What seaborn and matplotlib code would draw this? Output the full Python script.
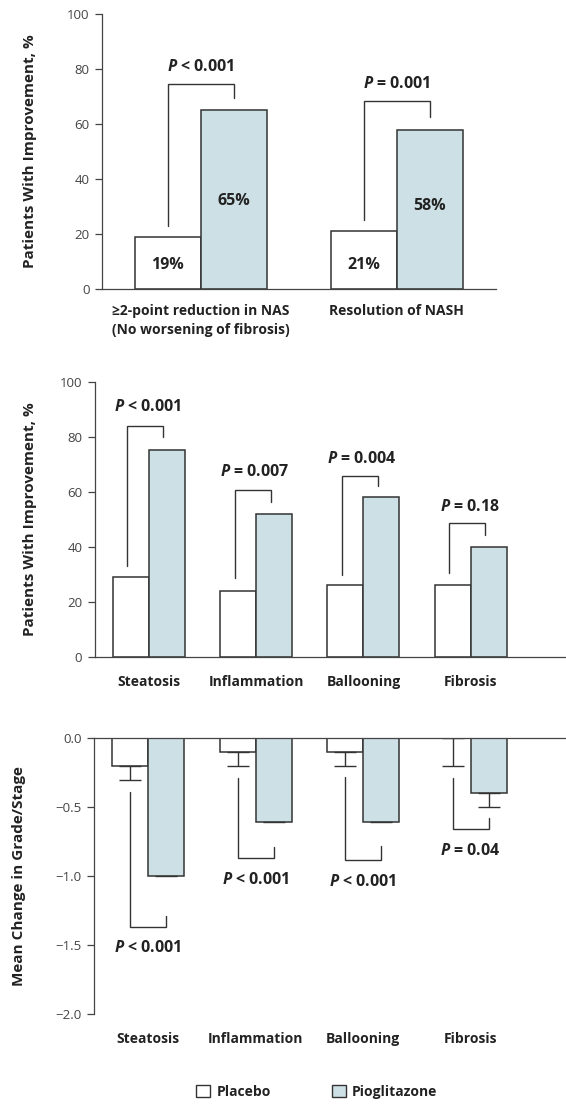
import matplotlib
matplotlib.use("Agg")
import matplotlib.pyplot as plt
import seaborn as sns
import numpy as np
import pandas as pd
from matplotlib.patches import Patch

sns.set_theme(style="ticks")
plt.rcParams['font.family'] = ['Open Sans', 'DejaVu Sans']
plt.rcParams['mathtext.fontset'] = 'custom'
plt.rcParams['mathtext.bfit'] = 'Open Sans:italic:bold'

# ---------- data ----------
groups = ['Placebo', 'Pioglitazone']
palette = {'Placebo': '#ffffff', 'Pioglitazone': '#cde0e5'}

# top panel: primary outcomes
outcomes = ['\u22652-point reduction in NAS\n(No worsening of fibrosis)', 'Resolution of NASH']
outcome_placebo = [19, 21]
outcome_pio = [65, 58]
outcome_label_y = [8.6, 8.6, 32.0, 30.2]
outcome_p = ['< 0.001', '= 0.001']
outcome_br_top = [74.4, 68.4]
outcome_br_left = [22.9, 25.0]
outcome_br_right = [69.3, 62.6]
outcome_p_y = [80.8, 74.4]

# middle panel: histologic features, % improved
features = ['Steatosis', 'Inflammation', 'Ballooning', 'Fibrosis']
improve_placebo = [29, 24, 26, 26]
improve_pio = [75, 52, 58, 40]
improve_p = ['< 0.001', '= 0.007', '= 0.004', '= 0.18']
improve_br_top = [83.9, 60.5, 65.7, 48.5]
improve_br_left = [33.1, 28.5, 29.7, 30.3]
improve_br_right = [80.0, 56.4, 62.1, 44.2]
improve_p_y = [90.9, 67.3, 71.8, 54.5]

# bottom panel: mean change in grade/stage
change_placebo = [-0.2, -0.1, -0.1, 0.0]
change_placebo_err = [0.1, 0.1, 0.1, 0.2]
change_pio = [-1.0, -0.61, -0.61, -0.4]
change_pio_err = [np.nan, np.nan, np.nan, 0.1]
change_p = ['< 0.001', '< 0.001', '< 0.001', '= 0.04']
change_br_bottom = [-1.37, -0.87, -0.88, -0.66]
change_br_left = [-0.39, -0.29, -0.28, -0.29]
change_br_right = [-1.285, -0.79, -0.78, -0.58]
change_p_y = [-1.52, -1.03, -1.04, -0.82]
change_ticks = [0.0, -0.5, -1.0, -1.5, -2.0]

EDGE = '#333333'
TXT = '#222222'


def draw_bars(ax, cats, placebo, pio, width):
    df = pd.DataFrame({
        'cat': cats * 2,
        'group': ['Placebo'] * len(cats) + ['Pioglitazone'] * len(cats),
        'value': placebo + pio,
    })
    sns.barplot(data=df, x='cat', y='value', hue='group', hue_order=groups,
                palette=palette, saturation=1, width=width, errorbar=None,
                edgecolor=EDGE, linewidth=1.1, legend=False, ax=ax)
    pl = [b.get_x() + b.get_width() / 2 for b in ax.containers[0]]
    pi = [b.get_x() + b.get_width() / 2 for b in ax.containers[1]]
    return pl, pi


def bracket(ax, x0, x1, y0, y1, ybar, label, ylab, xlab):
    ax.plot([x0, x0, x1, x1], [y0, ybar, ybar, y1], color=EDGE, lw=1.0,
            solid_joinstyle='miter', clip_on=False)
    ax.text(xlab, ylab, r'$\mathbfit{P}$ ' + label, ha='center', va='center',
            fontsize=11.5, fontweight='bold', color=TXT)


def style_axis(ax, ylabel, label_x):
    ax.set_xlabel('')
    ax.set_ylabel(ylabel, fontsize=11, fontweight='bold', color=TXT)
    ax.yaxis.set_label_coords(label_x, 0.5)
    ax.tick_params(axis='y', length=5, width=0.9, color='#444444',
                   labelsize=9.5, labelcolor='#444444', pad=4)
    ax.tick_params(axis='x', length=0, labelsize=10, labelcolor=TXT)
    for lab in ax.get_xticklabels():
        lab.set_fontweight('bold')
    for s in ['left', 'bottom', 'top']:
        ax.spines[s].set_color('#444444')
        ax.spines[s].set_linewidth(0.9)


fig = plt.figure(figsize=(5.66, 11.05), dpi=100)

# ---------- top panel ----------
ax1 = fig.add_axes([0.180, 0.7385, 0.696, 0.2488])
pl, pi = draw_bars(ax1, outcomes, outcome_placebo, outcome_pio, 0.673)
ax1.set_xlim(-0.505, 1.505)
ax1.set_ylim(0, 100)
ax1.set_yticks([0, 20, 40, 60, 80, 100])
sns.despine(ax=ax1)
style_axis(ax1, 'Patients With Improvement, %', -0.165)
ax1.tick_params(axis='x', pad=11)
for lab in ax1.get_xticklabels():
    lab.set_linespacing(1.45)
    lab.set_verticalalignment('top')
xs = pl + pi
vals = outcome_placebo + outcome_pio
for x, v, y in zip(xs, vals, outcome_label_y):
    ax1.text(x, y, f'{v}%', ha='center', va='center', fontsize=11.5,
             fontweight='bold', color=TXT)
for i in range(len(outcomes)):
    bracket(ax1, pl[i], pi[i], outcome_br_left[i], outcome_br_right[i],
            outcome_br_top[i], outcome_p[i], outcome_p_y[i], (pl[i] + pi[i]) / 2)

# ---------- middle panel ----------
ax2 = fig.add_axes([0.1673, 0.4057, 0.8327, 0.2489])
pl, pi = draw_bars(ax2, features, improve_placebo, improve_pio, 0.67)
ax2.set_xlim(-0.503, 3.888)
ax2.set_ylim(0, 100)
ax2.set_yticks([0, 20, 40, 60, 80, 100])
sns.despine(ax=ax2)
style_axis(ax2, 'Patients With Improvement, %', -0.122)
ax2.tick_params(axis='x', pad=13)
for i in range(len(features)):
    bracket(ax2, pl[i] - 0.03, pi[i] - 0.03, improve_br_left[i], improve_br_right[i],
            improve_br_top[i], improve_p[i], improve_p_y[i], (pl[i] + pi[i]) / 2 - 0.01)

# ---------- bottom panel ----------
ax3 = fig.add_axes([0.166, 0.0821, 0.834, 0.2498])
pl, pi = draw_bars(ax3, features, change_placebo, change_pio, 0.67)
ax3.errorbar(pl, change_placebo, yerr=[change_placebo_err, np.zeros(4)], fmt='none',
             ecolor=EDGE, elinewidth=1.0, capsize=8, capthick=1.0)
ax3.errorbar(pi, change_pio, yerr=[change_pio_err, np.zeros(4)], fmt='none',
             ecolor=EDGE, elinewidth=1.0, capsize=8, capthick=1.0)
ax3.set_xlim(-0.503, 3.888)
ax3.set_ylim(-2.0, 0.0)
ax3.set_yticks(change_ticks)
ax3.set_yticklabels([f'{t:.1f}'.replace('-', '\u2212') for t in change_ticks])
ax3.spines['right'].set_visible(False)
ax3.spines['bottom'].set_visible(False)
style_axis(ax3, 'Mean Change in Grade/Stage', -0.145)
ax3.tick_params(axis='x', pad=13)
for i in range(len(features)):
    bracket(ax3, pl[i], pi[i], change_br_left[i], change_br_right[i],
            change_br_bottom[i], change_p[i], change_p_y[i], (pl[i] + pi[i]) / 2)

# ---------- legend ----------
handles = [Patch(facecolor=palette[g], edgecolor=EDGE, linewidth=1.0, label=g) for g in groups]
leg = fig.legend(handles=handles, loc='center', bbox_to_anchor=(0.56, 0.012), ncol=2,
                 frameon=False, handlelength=1.0, handleheight=1.0, handletextpad=0.45,
                 columnspacing=4.4, prop={'weight': 'bold', 'size': 10})
for t in leg.get_texts():
    t.set_color(TXT)

fig.savefig('out.png', dpi=100)
